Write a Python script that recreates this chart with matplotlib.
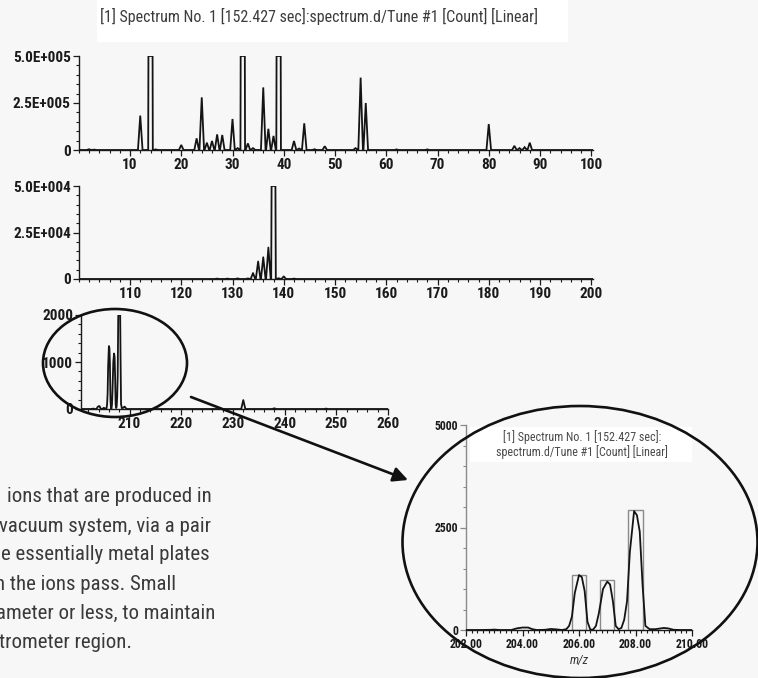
import numpy as np
import matplotlib
matplotlib.use("Agg")
import matplotlib.pyplot as plt
from matplotlib import font_manager
from matplotlib.patches import Ellipse, Rectangle
from matplotlib.ticker import MultipleLocator, FixedLocator, FixedFormatter

# ---------------- data ----------------
# panel 1 (m/z 0-100) centroid peaks, counts
p1_mz = [2, 3, 12, 14, 15, 20, 23, 24, 25, 26, 27, 28, 30, 31, 32, 33, 34,
         36, 37, 38, 39, 42, 43, 44, 46, 48, 54, 55, 56, 62, 68, 80, 85, 86, 87, 88]
p1_int = [4000, 2000, 183000, 5000000, 3000, 27000, 62000, 280000, 39000, 48000,
          83000, 80000, 165000, 10000, 5000000, 35000, 10000, 333000, 113000,
          75000, 5000000, 48000, 8000, 142000, 4000, 20000, 10000, 385000,
          250000, 3000, 3000, 138000, 22000, 10000, 15000, 39000]
# panel 2 (m/z 100-200)
p2_mz = [127, 129, 131, 133, 134, 135, 136, 137, 138, 139, 140, 142]
p2_int = [200, 200, 300, 300, 3200, 9400, 11700, 16900, 300000, 400, 1400, 200]
# panel 3 (m/z 200-260): extra peaks beyond the zoomed profile
p3_mz = [232, 238, 248]
p3_int = [190, 15, 8]
# zoomed profile m/z 202-210
zoom_mz = [202.0, 202.5, 202.9, 203.0, 203.2, 203.6, 203.8, 204.0, 204.2, 204.35,
           204.5, 204.8, 205.0, 205.2, 205.4, 205.55, 205.65, 205.75, 205.85,
           206.0, 206.1, 206.2, 206.3, 206.4, 206.5, 206.6, 206.7, 206.85, 207.0,
           207.1, 207.2, 207.3, 207.4, 207.5, 207.6, 207.7, 207.8, 207.95, 208.05,
           208.15, 208.25, 208.35, 208.5, 208.7, 208.9, 209.0, 209.15, 209.35,
           209.6, 210.0]
zoom_int = [0, 0, 5, 10, 0, 0, 40, 60, 60, 20,
            0, 5, 25, 15, 0, 20, 100, 330, 900,
            1340, 1290, 950, 200, 10, 10, 100, 400, 1000, 1180,
            1110, 700, 100, 20, 50, 250, 700, 1900, 2900, 2800,
            2400, 1100, 100, 20, 20, 40, 50, 40, 5,
            0, 0]
# centroid boxes in the zoom
box_mz = [206, 207, 208]
box_int = [1330, 1225, 2920]

title = "[1] Spectrum No. 1 [152.427 sec]:spectrum.d/Tune #1 [Count] [Linear]"
inset_title = ["[1] Spectrum No. 1 [152.427 sec]:", "spectrum.d/Tune #1 [Count] [Linear]"]
body_lines = ["ions that are produced in", "vacuum system, via a pair",
              "e essentially metal plates", "h the ions pass. Small",
              "ameter or less, to maintain", "trometer region."]

p1_yt = [0, 250000, 500000];  p1_yl = ["0", "2.5E+005", "5.0E+005"]
p2_yt = [0, 25000, 50000];    p2_yl = ["0", "2.5E+004", "5.0E+004"]
p3_yt = [0, 1000, 2000];      p3_yl = ["0", "1000", "2000"]
z_yt = [0, 2500, 5000];       z_yl = ["0", "2500", "5000"]
p1_xt = [10, 20, 30, 40, 50, 60, 70, 80, 90, 100]
p2_xt = [110, 120, 130, 140, 150, 160, 170, 180, 190, 200]
p3_xt = [210, 220, 230, 240, 250, 260]
z_xt = [202, 204, 206, 208, 210]
z_xl = ["202.00", "204.00", "206.00", "208.00", "210.00"]

# ---------------- helpers ----------------
names = {f.name for f in font_manager.fontManager.ttflist}
def pick(*cands):
    for c in cands:
        if c in names:
            return c
    return "DejaVu Sans"
COND = pick("Liberation Sans Narrow", "Roboto Condensed", "Liberation Sans")

W, H = 758, 678
fig = plt.figure(figsize=(W / 100, H / 100), dpi=100, facecolor="#f7f7f7")

def ax_px(x0, x1, ytop, ybot):
    return fig.add_axes([x0 / W, 1 - ybot / H, (x1 - x0) / W, (ybot - ytop) / H])

def peaks_line(mz, inten, w, lo, hi):
    xs, ys = [lo], [0]
    for m, v in sorted(zip(mz, inten)):
        xs += [m - w, m, m + w]
        ys += [0, v, 0]
    xs.append(hi); ys.append(0)
    return xs, ys

def clip_top(x, y, top):
    xs, ys = [x[0]], [min(y[0], top)]
    for i in range(1, len(x)):
        x0, y0, x1, y1 = x[i - 1], y[i - 1], x[i], y[i]
        if (y0 - top) * (y1 - top) < 0:
            xs.append(x0 + (top - y0) / (y1 - y0) * (x1 - x0)); ys.append(top)
        xs.append(x1); ys.append(min(y1, top))
    return np.array(xs), np.array(ys)

def style(ax, xlim, ylim, xt, xl, xminor, yt, yl, yminor, fs, lcol="#1a1a1a", ycol="#1a1a1a"):
    ax.set_xlim(*xlim); ax.set_ylim(*ylim)
    ax.patch.set_alpha(0)
    for s in ("top", "right"):
        ax.spines[s].set_visible(False)
    ax.spines["bottom"].set_color("#1a1a1a")
    ax.spines["left"].set_color(ycol)
    ax.spines["bottom"].set_linewidth(1.0)
    ax.spines["left"].set_linewidth(1.0)
    ax.xaxis.set_major_locator(FixedLocator(xt))
    ax.xaxis.set_major_formatter(FixedFormatter(xl))
    ax.xaxis.set_minor_locator(MultipleLocator(xminor))
    ax.yaxis.set_major_locator(FixedLocator(yt))
    ax.yaxis.set_major_formatter(FixedFormatter(yl))
    ax.yaxis.set_minor_locator(MultipleLocator(yminor))
    ax.tick_params(axis="both", which="major", length=4.5, width=0.9, pad=1.2,
                   labelsize=fs, labelcolor=lcol, color="#1a1a1a", direction="out")
    ax.tick_params(axis="both", which="minor", length=2.5, width=0.8, color="#1a1a1a",
                   direction="out")
    ax.tick_params(axis="y", which="both", color=ycol)
    for lab in ax.get_xticklabels() + ax.get_yticklabels():
        lab.set_fontfamily(COND); lab.set_fontweight("bold")

LC = "#141414"
# panel 1
ax1 = ax_px(78.75, 593, 56, 150)
x, y = peaks_line(p1_mz, p1_int, 0.45, 0, 100.34)
x, y = clip_top(x, y, 500000)
ax1.plot(x, y, color=LC, lw=1.3, solid_joinstyle="miter")
style(ax1, (0, 100.34), (0, 500000), p1_xt, [str(v) for v in p1_xt], 2,
      p1_yt, p1_yl, 50000, 11)

# panel 2
ax2 = ax_px(78.75, 593, 186, 279)
x, y = peaks_line(p2_mz, p2_int, 0.45, 100, 200.34)
x, y = clip_top(x, y, 50000)
ax2.plot(x, y, color=LC, lw=1.3)
style(ax2, (100, 200.34), (0, 50000), p2_xt, [str(v) for v in p2_xt], 2,
      p2_yt, p2_yl, 5000, 11)

# panel 3
ax3 = ax_px(81, 388, 315, 409)
xp, yp = peaks_line(p3_mz, p3_int, 0.4, zoom_mz[-1], 260)
x = [200.6] + list(zoom_mz) + xp
y = [0] + list(zoom_int) + yp
x, y = clip_top(x, y, 2000)
ax3.plot(x, y, color=LC, lw=1.3)
style(ax3, (200.6, 260), (0, 2000), p3_xt, [str(v) for v in p3_xt], 2,
      p3_yt, p3_yl, 200, 11)

# zoom inset
ax4 = ax_px(466, 692, 425, 630)
ax4.bar(box_mz, box_int, width=0.5, fill=False, edgecolor="#8a8a8a", lw=1.0, zorder=2)
ax4.plot(zoom_mz, zoom_int, color=LC, lw=1.3, zorder=3)
style(ax4, (202, 210), (0, 5000), z_xt, z_xl, 0.2, z_yt, z_yl, 500, 8.5,
      ycol="#8a8a8a")
ax4.set_xlabel("m/z", fontstyle="italic", fontfamily=COND, fontsize=9,
               color="#333333", labelpad=2)

# overlay
ov = fig.add_axes([0, 0, 1, 1], zorder=10)
ov.set_xlim(0, W); ov.set_ylim(H, 0); ov.axis("off"); ov.patch.set_alpha(0)
ov.add_patch(Rectangle((97, 0), 471, 42, facecolor="white", edgecolor="none", zorder=1))
ov.add_patch(Rectangle((470, 427), 222, 35, facecolor="white", edgecolor="none", zorder=1))

t_title = ov.text(318.5, 16, title, ha="center", va="center", fontfamily=COND,
                  fontsize=12, color="#3c3c3c", zorder=3)
t_in1 = ov.text(582, 437, inset_title[0], ha="center", va="center", fontfamily=COND,
                fontsize=9.5, color="#4a4a4a", zorder=3)
t_in2 = ov.text(582, 452, inset_title[1], ha="center", va="center", fontfamily=COND,
                fontsize=9.5, color="#4a4a4a", zorder=3)

body_x = [7, -1, 1, -5, -4, -1]
body_y = [497, 526, 555, 585, 613, 643]
body_t = []
for bx, by, s in zip(body_x, body_y, body_lines):
    body_t.append(ov.text(bx, by, s, ha="left", va="center", fontfamily=COND,
                          fontsize=15, color="#3a3a3a", zorder=3))

ov.add_patch(Ellipse((115, 363), 144, 108, fill=False, lw=1.9, ec="#111111", zorder=4))
ov.add_patch(Ellipse((580, 542), 355, 272, fill=False, lw=1.9, ec="#111111", zorder=4))
ov.annotate("", xy=(408, 480), xytext=(191, 397),
            arrowprops=dict(arrowstyle="-|>", lw=1.9, color="#111111",
                            mutation_scale=22, shrinkA=0, shrinkB=0), zorder=5)

# fit text widths to reference
r = fig.canvas.get_renderer()
def fit(t, target):
    w = t.get_window_extent(r).width
    return t.get_fontsize() * target / w
t_title.set_fontsize(fit(t_title, 437))
s_in = fit(t_in2, 172)
t_in1.set_fontsize(s_in); t_in2.set_fontsize(s_in)
s_body = fit(body_t[0], 205)
for t in body_t:
    t.set_fontsize(s_body)

fig.savefig("out.png", dpi=100, facecolor=fig.get_facecolor())
